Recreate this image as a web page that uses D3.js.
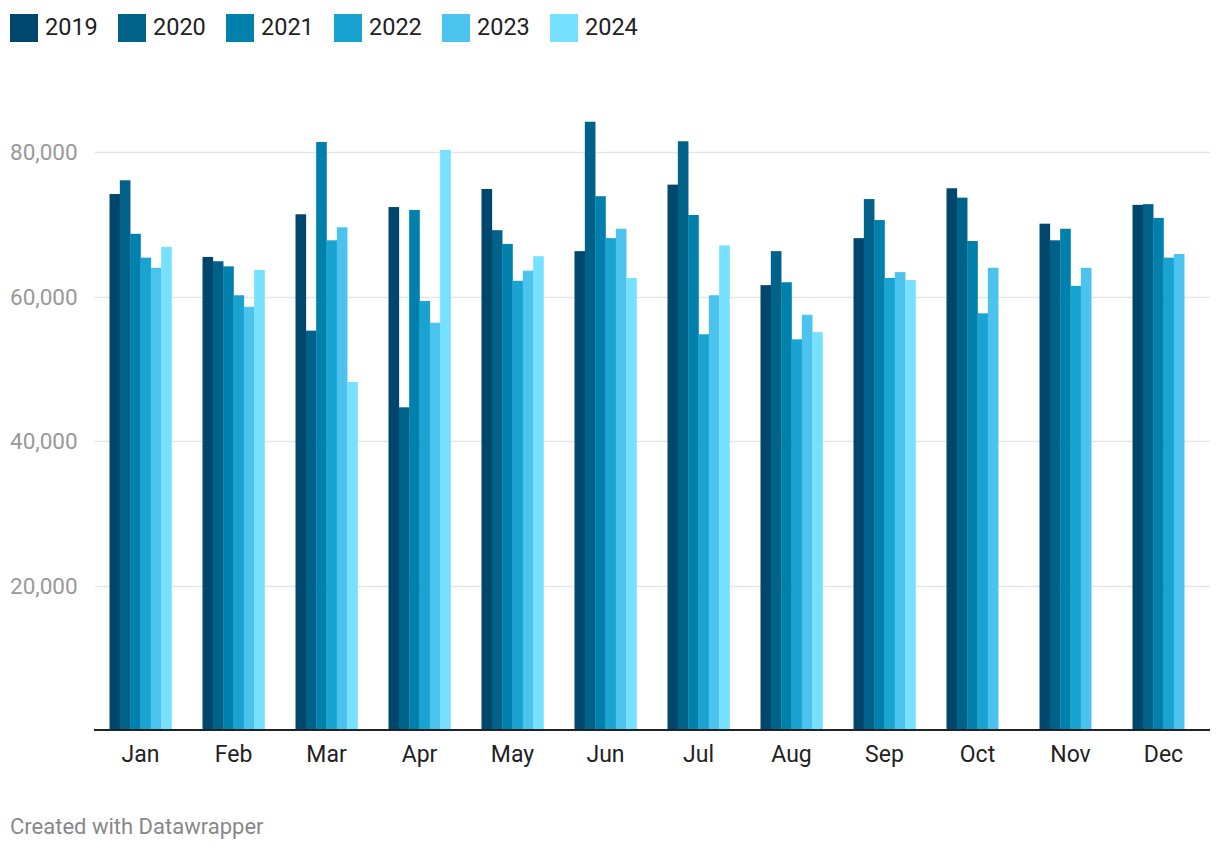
<!DOCTYPE html>
<html>
<head>
<meta charset="utf-8">
<script src="https://cdn.jsdelivr.net/npm/d3@7"></script>
<style>
  body { margin: 0; background: #fff; }
  svg { display: block; font-family: Roboto, "Noto Sans", sans-serif; }
</style>
</head>
<body>
<svg id="chart" width="1220" height="852"></svg>
<script>
const months = ["Jan","Feb","Mar","Apr","May","Jun","Jul","Aug","Sep","Oct","Nov","Dec"];
const years = ["2019","2020","2021","2022","2023","2024"];
const colors = ["#00476d","#006189","#0081ad","#19a3d0","#4cc2ee","#75e1ff"];
const yTicks = [20000, 40000, 60000, 80000];

const v2019 = [74200, 65500, 71400, 72400, 74900, 66300, 75500, 61600, 68100, 75000, 70100, 72700];
const v2020 = [76100, 64900, 55300, 44700, 69200, 84200, 81500, 66300, 73500, 73700, 67800, 72800];
const v2021 = [68700, 64200, 81400, 72000, 67300, 73900, 71300, 62000, 70600, 67700, 69400, 70900];
const v2022 = [65400, 60200, 67800, 59400, 62200, 68100, 54800, 54100, 62600, 57700, 61500, 65400];
const v2023 = [64000, 58600, 69600, 56400, 63600, 69400, 60200, 57500, 63400, 64000, 64000, 65900];
const v2024 = [66900, 63700, 48200, 80300, 65600, 62600, 67100, 55100, 62300, null, null, null];
const series = [v2019, v2020, v2021, v2022, v2023, v2024];

(function () {
const svg = d3.select("#chart");
const mLeft = 94, mRight = 1210, mBottom = 730.5;

const x = d3.scaleBand().domain(months).range([mLeft, mRight]).paddingInner(1/3).paddingOuter(1/6);
const xs = d3.scaleBand().domain(years).range([0, x.bandwidth()]);
const y = d3.scaleLinear().domain([0, 80000]).range([mBottom, mBottom - 80000 * 0.00723]);

// gridlines
const grid = svg.append("g");
grid.selectAll("line").data(yTicks).join("line")
  .attr("x1", mLeft + 1).attr("x2", mRight)
  .attr("y1", d => Math.round(y(d)) + 0.5).attr("y2", d => Math.round(y(d)) + 0.5)
  .attr("stroke", "#e5e5e5").attr("stroke-width", 1.5);

grid.selectAll("text").data(yTicks).join("text")
  .attr("x", 10).attr("y", d => y(d) + 8)
  .attr("fill", "#999").attr("font-size", 22.5)
  .text(d => d3.format(",")(d));

// bars
const data = [];
months.forEach((m, i) => {
  years.forEach((yr, j) => {
    const v = series[j][i];
    if (v != null) data.push({ m, yr, v, c: colors[j] });
  });
});
svg.append("g").selectAll("rect").data(data).join("rect")
  .attr("x", d => x(d.m) + xs(d.yr))
  .attr("width", xs.bandwidth() + 0.3)
  .attr("y", d => y(d.v))
  .attr("height", d => y(0) - y(d.v))
  .attr("fill", d => d.c);

// x axis
svg.append("line").attr("x1", mLeft).attr("x2", mRight)
  .attr("y1", mBottom - 0.5).attr("y2", mBottom - 0.5)
  .attr("stroke", "#222").attr("stroke-width", 2);

svg.append("g").selectAll("text").data(months).join("text")
  .attr("x", d => x(d) + x.bandwidth() / 2)
  .attr("y", 762)
  .attr("text-anchor", "middle")
  .attr("fill", "#222").attr("font-size", 23)
  .text(d => d);

// legend
const legendStep = 108;
const lg = svg.append("g").selectAll("g").data(years).join("g")
  .attr("transform", (d, i) => `translate(${10 + i * legendStep},14)`);
lg.append("rect").attr("width", 28).attr("height", 28).attr("fill", (d, i) => colors[i]);
lg.append("text").attr("x", 35).attr("y", 21).attr("font-size", 23.5).attr("fill", "#222").text(d => d);

// footer
svg.append("text").attr("x", 10).attr("y", 834)
  .attr("font-size", 22).attr("fill", "#888")
  .text("Created with Datawrapper");
})();
</script>
</body>
</html>
